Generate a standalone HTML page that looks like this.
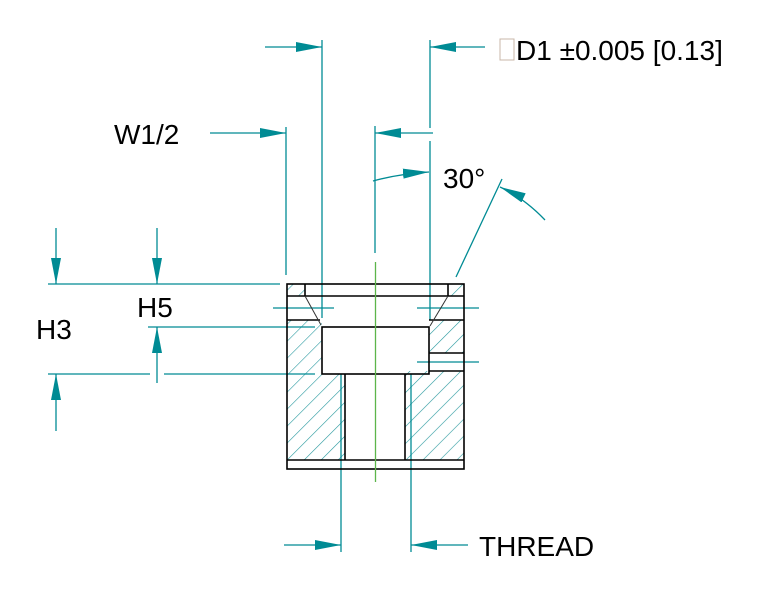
<!DOCTYPE html>
<html><head><style>html,body{margin:0;padding:0;background:#fff}svg{display:block}</style></head><body>
<svg width="780" height="600" viewBox="0 0 780 600" xmlns="http://www.w3.org/2000/svg">
<defs>
<pattern id="h" patternUnits="userSpaceOnUse" width="12" height="12" patternTransform="rotate(45)">
<line x1="0" y1="0" x2="0" y2="12" stroke="#2a9aa0" stroke-width="1.2"/>
</pattern>
<marker id="a" viewBox="0 0 26 10" refX="26" refY="5" markerWidth="26" markerHeight="10" markerUnits="userSpaceOnUse" orient="auto"><path d="M0,0L26,5L0,10z" fill="#008b94"/></marker>
</defs>
<g fill="url(#h)">
<path d="M287,320H322V374H345V460H287Z"/>
<path d="M405,371H464V460H405Z"/>
<path d="M429,320H464V353H429Z"/>
<path d="M287,284H305V296H287Z"/>
<path d="M448,284H464V296H448Z"/>
</g>
<g stroke="#008b94" stroke-width="1.3" fill="none">
<line x1="322" y1="40" x2="322" y2="318"/>
<line x1="430" y1="40" x2="430" y2="128"/>
<line x1="430" y1="141" x2="430" y2="320"/>
<line x1="286" y1="127" x2="286" y2="275"/>
<line x1="375" y1="126" x2="375" y2="253"/>
<line x1="265" y1="47" x2="322" y2="47" marker-end="url(#a)"/>
<line x1="485" y1="47" x2="430" y2="47" marker-end="url(#a)"/>
<line x1="210" y1="133" x2="286" y2="133" marker-end="url(#a)"/>
<line x1="433" y1="133" x2="375" y2="133" marker-end="url(#a)"/>
<path d="M373,181 Q398,174 429,172" marker-end="url(#a)"/>
<line x1="456" y1="277" x2="502" y2="179"/>
<path d="M545,220 Q524,198 500,187" marker-end="url(#a)"/>
<line x1="48" y1="284" x2="280" y2="284"/>
<line x1="48" y1="374" x2="150" y2="374"/>
<line x1="164" y1="374" x2="315" y2="374"/>
<line x1="148" y1="327" x2="315" y2="327"/>
<line x1="56" y1="228" x2="56" y2="284" marker-end="url(#a)"/>
<line x1="56" y1="431" x2="56" y2="374" marker-end="url(#a)"/>
<line x1="157" y1="228" x2="157" y2="284" marker-end="url(#a)"/>
<line x1="157" y1="383" x2="157" y2="327" marker-end="url(#a)"/>
<line x1="273" y1="308" x2="334" y2="308"/>
<line x1="417" y1="308" x2="479" y2="308"/>
<line x1="417" y1="362" x2="479" y2="362"/>
<line x1="341" y1="374" x2="341" y2="552"/>
<line x1="411" y1="374" x2="411" y2="552"/>
<line x1="284" y1="545" x2="341" y2="545" marker-end="url(#a)"/>
<line x1="468" y1="545" x2="411" y2="545" marker-end="url(#a)"/>
</g>
<g stroke="#000" stroke-width="1.6" fill="none">
<rect x="287" y="284" width="177" height="185"/>
<line x1="287" y1="296" x2="464" y2="296"/>
<line x1="305" y1="284" x2="305" y2="296"/>
<line x1="448" y1="284" x2="448" y2="296"/>
<line x1="287" y1="320" x2="320" y2="320"/>
<line x1="429" y1="320" x2="464" y2="320"/>
<line x1="429" y1="353" x2="464" y2="353"/>
<line x1="429" y1="371" x2="464" y2="371"/>
<rect x="322" y="327" width="107" height="47"/>
<line x1="345" y1="374" x2="345" y2="460"/>
<line x1="405" y1="374" x2="405" y2="460"/>
<line x1="287" y1="460" x2="464" y2="460"/>
</g>
<g stroke="#333" stroke-width="1" fill="none">
<line x1="305" y1="296" x2="321" y2="325"/>
<line x1="448" y1="296" x2="430" y2="326"/>
</g>
<line x1="375.5" y1="262" x2="375.5" y2="482" stroke="#5db54a" stroke-width="1.3"/>
<g font-family="Liberation Sans, sans-serif" font-size="28" fill="#000">
<text x="114" y="144">W1/2</text>
<text x="443" y="188">30°</text>
<text x="36" y="339">H3</text>
<text x="137" y="317">H5</text>
<text x="479" y="556">THREAD</text>
<rect x="500" y="39" width="14" height="21" fill="none" stroke="#c9b7a8" stroke-width="1"/>
<text x="516" y="60">D1 ±0.005 [0.13]</text>
</g>
</svg>
</body></html>
